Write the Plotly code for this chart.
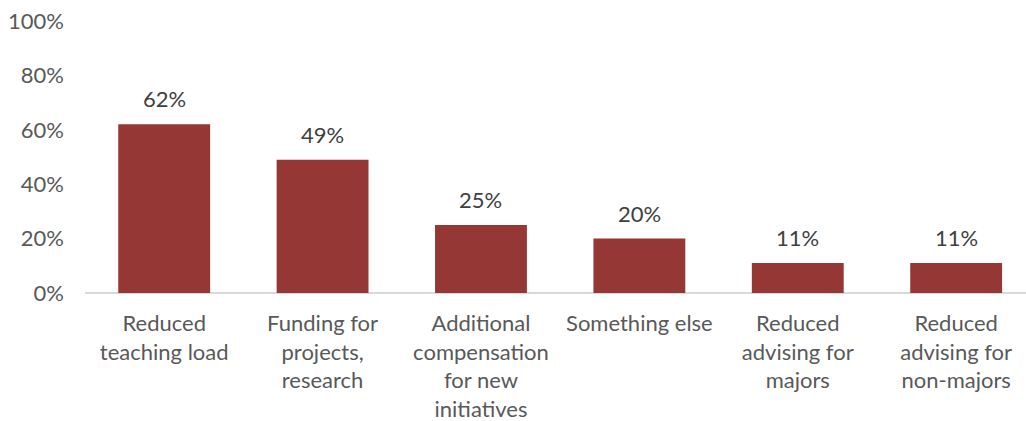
import plotly.graph_objects as go

# Share of respondents selecting each type of support
categories = [
    "Reduced<br>teaching load",
    "Funding for<br>projects,<br>research",
    "Additional<br>compensation<br>for new<br>initiatives",
    "Something else",
    "Reduced<br>advising for<br>majors",
    "Reduced<br>advising for<br>non-majors",
]
values = [62, 49, 25, 20, 11, 11]
value_labels = ["62%", "49%", "25%", "20%", "11%", "11%"]
y_ticks = [0, 20, 40, 60, 80, 100]
y_tick_labels = ["0%", "20%", "40%", "60%", "80%", "100%"]

FONT = "Lato"
BAR_COLOR = "#953735"

positions = list(range(len(categories)))

fig = go.Figure(
    go.Bar(
        x=positions,
        y=values,
        marker=dict(color=BAR_COLOR, line=dict(width=0)),
        width=0.58,
        hoverinfo="skip",
    )
)

# value labels floating above each bar
for xi, v, lab in zip(positions, values, value_labels):
    fig.add_annotation(
        x=xi,
        y=v,
        xref="x",
        yref="y",
        text=lab,
        showarrow=False,
        yanchor="bottom",
        yshift=10,
        font=dict(family=FONT, size=22, color="#404040"),
    )

fig.update_layout(
    width=1026,
    height=421,
    margin=dict(l=85, r=0, t=21, b=128),
    paper_bgcolor="white",
    plot_bgcolor="white",
    showlegend=False,
    font=dict(family=FONT, size=22, color="#595959"),
)

fig.update_xaxes(
    range=[-0.5, 5.441],
    tickmode="array",
    tickvals=positions,
    ticktext=categories,
    showgrid=False,
    zeroline=False,
    showline=False,
    ticks="",
    ticklabelstandoff=15,
    tickfont=dict(family=FONT, size=22, color="#595959"),
)

fig.update_yaxes(
    range=[0, 100],
    tickmode="array",
    tickvals=y_ticks,
    ticktext=y_tick_labels,
    showgrid=False,
    zeroline=True,
    zerolinecolor="#d9d9d9",
    zerolinewidth=2,
    showline=False,
    ticks="",
    ticklabelstandoff=20,
    tickfont=dict(family=FONT, size=22, color="#595959"),
)

fig.write_html("out.html")
